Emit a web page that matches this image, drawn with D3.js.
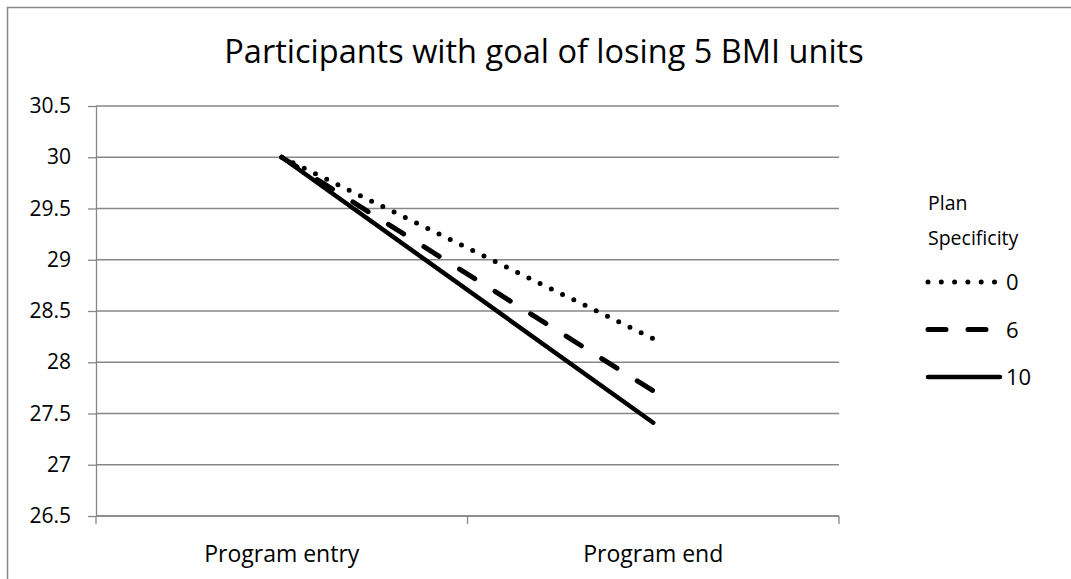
<!DOCTYPE html>
<html>
<head>
<meta charset="utf-8">
<script src="https://cdn.jsdelivr.net/npm/d3@7"></script>
<style>
    body { margin: 0; background: #fff; overflow: hidden; }
    svg { font-family: 'Open Sans', 'Noto Sans', sans-serif; display: block; }
    .grid line { stroke: #878787; stroke-width: 1.3; }
    .axis path, .axis line { stroke: #878787; stroke-width: 1.3; }
    .axis text { fill: #000; }
    .series { fill: none; stroke: #000; stroke-linecap: round; }
</style>
</head>
<body>
<svg width="1071" height="579"></svg>
<script>
const TITLE = 'Participants with goal of losing 5 BMI units';
const CATEGORIES = ['Program entry', 'Program end'];
const Y_TICKS = [26.5, 27, 27.5, 28, 28.5, 29, 29.5, 30, 30.5];
const LEGEND_TITLE = ['Plan', 'Specificity'];
const SERIES_NAMES = ['0', '6', '10'];
const VALUES_0 = [30, 28.23];
const VALUES_6 = [30, 27.72];
const VALUES_10 = [30, 27.41];

const series = [
    { name: SERIES_NAMES[0], values: VALUES_0,  dash: '0 12.5', legendDash: '0 13.3', width: 5 },
    { name: SERIES_NAMES[1], values: VALUES_6,  dash: '18 24',  legendDash: '18 22',  width: 5 },
    { name: SERIES_NAMES[2], values: VALUES_10, dash: null,     legendDash: null,     width: 4.5 },
];

const PLOT = { left: 96, right: 839, top: 106, bottom: 516 };

const svg = d3.select('svg');

// outer chart border: only left and top edges are inside the picture
svg.append('path')
    .attr('d', 'M7.5,600V7.5H1100')
    .attr('fill', 'none')
    .attr('stroke', '#878787')
    .attr('stroke-width', 1.5);

svg.append('text')
    .attr('x', 544)
    .attr('y', 63)
    .attr('text-anchor', 'middle')
    .style('font-size', '32.5px')
    .text(TITLE);

const x = d3.scaleBand().domain(CATEGORIES).range([PLOT.left, PLOT.right]);
const y = d3.scaleLinear().domain([26.5, 30.5]).range([PLOT.bottom, PLOT.top]);

// horizontal gridlines
svg.append('g')
    .classed('grid', true)
    .selectAll('line')
    .data(Y_TICKS)
    .enter()
    .append('line')
    .attr('x1', PLOT.left)
    .attr('x2', PLOT.right)
    .attr('y1', d => y(d))
    .attr('y2', d => y(d));

// y axis
const yAxis = svg.append('g')
    .classed('axis', true)
    .attr('transform', `translate(${PLOT.left},0)`)
    .call(d3.axisLeft(y).tickValues(Y_TICKS).tickSize(8).tickSizeOuter(0).tickPadding(17).tickFormat(d3.format('')));
yAxis.attr('font-family', null).attr('font-size', null);
yAxis.selectAll('text').style('font-size', '21px');

// x axis, ticks sit on the category boundaries
const xAxis = svg.append('g')
    .classed('axis', true)
    .attr('transform', `translate(0,${PLOT.bottom})`);
xAxis.append('line')
    .attr('x1', PLOT.left).attr('x2', PLOT.right);
xAxis.selectAll('.xtick')
    .data(CATEGORIES.map(c => x(c)).concat([PLOT.right]))
    .enter()
    .append('line')
    .classed('xtick', true)
    .attr('x1', d => d).attr('x2', d => d)
    .attr('y1', 0).attr('y2', 8);
xAxis.selectAll('text')
    .data(CATEGORIES)
    .enter()
    .append('text')
    .attr('x', d => x(d) + x.bandwidth() / 2)
    .attr('y', 46)
    .attr('text-anchor', 'middle')
    .style('font-size', '23px')
    .text(d => d);

// series lines
const line = d3.line()
    .x((d, i) => x(CATEGORIES[i]) + x.bandwidth() / 2)
    .y(d => y(d));

svg.selectAll('.series')
    .data(series)
    .enter()
    .append('path')
    .classed('series', true)
    .attr('d', s => line(s.values))
    .attr('stroke-width', s => s.width)
    .attr('stroke-dasharray', s => s.dash);

// legend
const legend = svg.append('g');
legend.selectAll('.ltitle')
    .data(LEGEND_TITLE)
    .enter()
    .append('text')
    .attr('x', 928)
    .attr('y', (d, i) => 210 + i * 35)
    .style('font-size', '19.5px')
    .text(d => d);

const rows = legend.selectAll('.lrow')
    .data(series)
    .enter()
    .append('g')
    .attr('transform', (d, i) => `translate(928,${282 + i * 47.5})`);
rows.append('line')
    .classed('series', true)
    .attr('x1', 0).attr('x2', (d, i) => i === 2 ? 72 : 68)
    .attr('stroke-width', s => s.width)
    .attr('stroke-dasharray', s => s.legendDash);
rows.append('text')
    .attr('x', 78)
    .attr('y', 8)
    .style('font-size', '22px')
    .text(s => s.name);
</script>
</body>
</html>
